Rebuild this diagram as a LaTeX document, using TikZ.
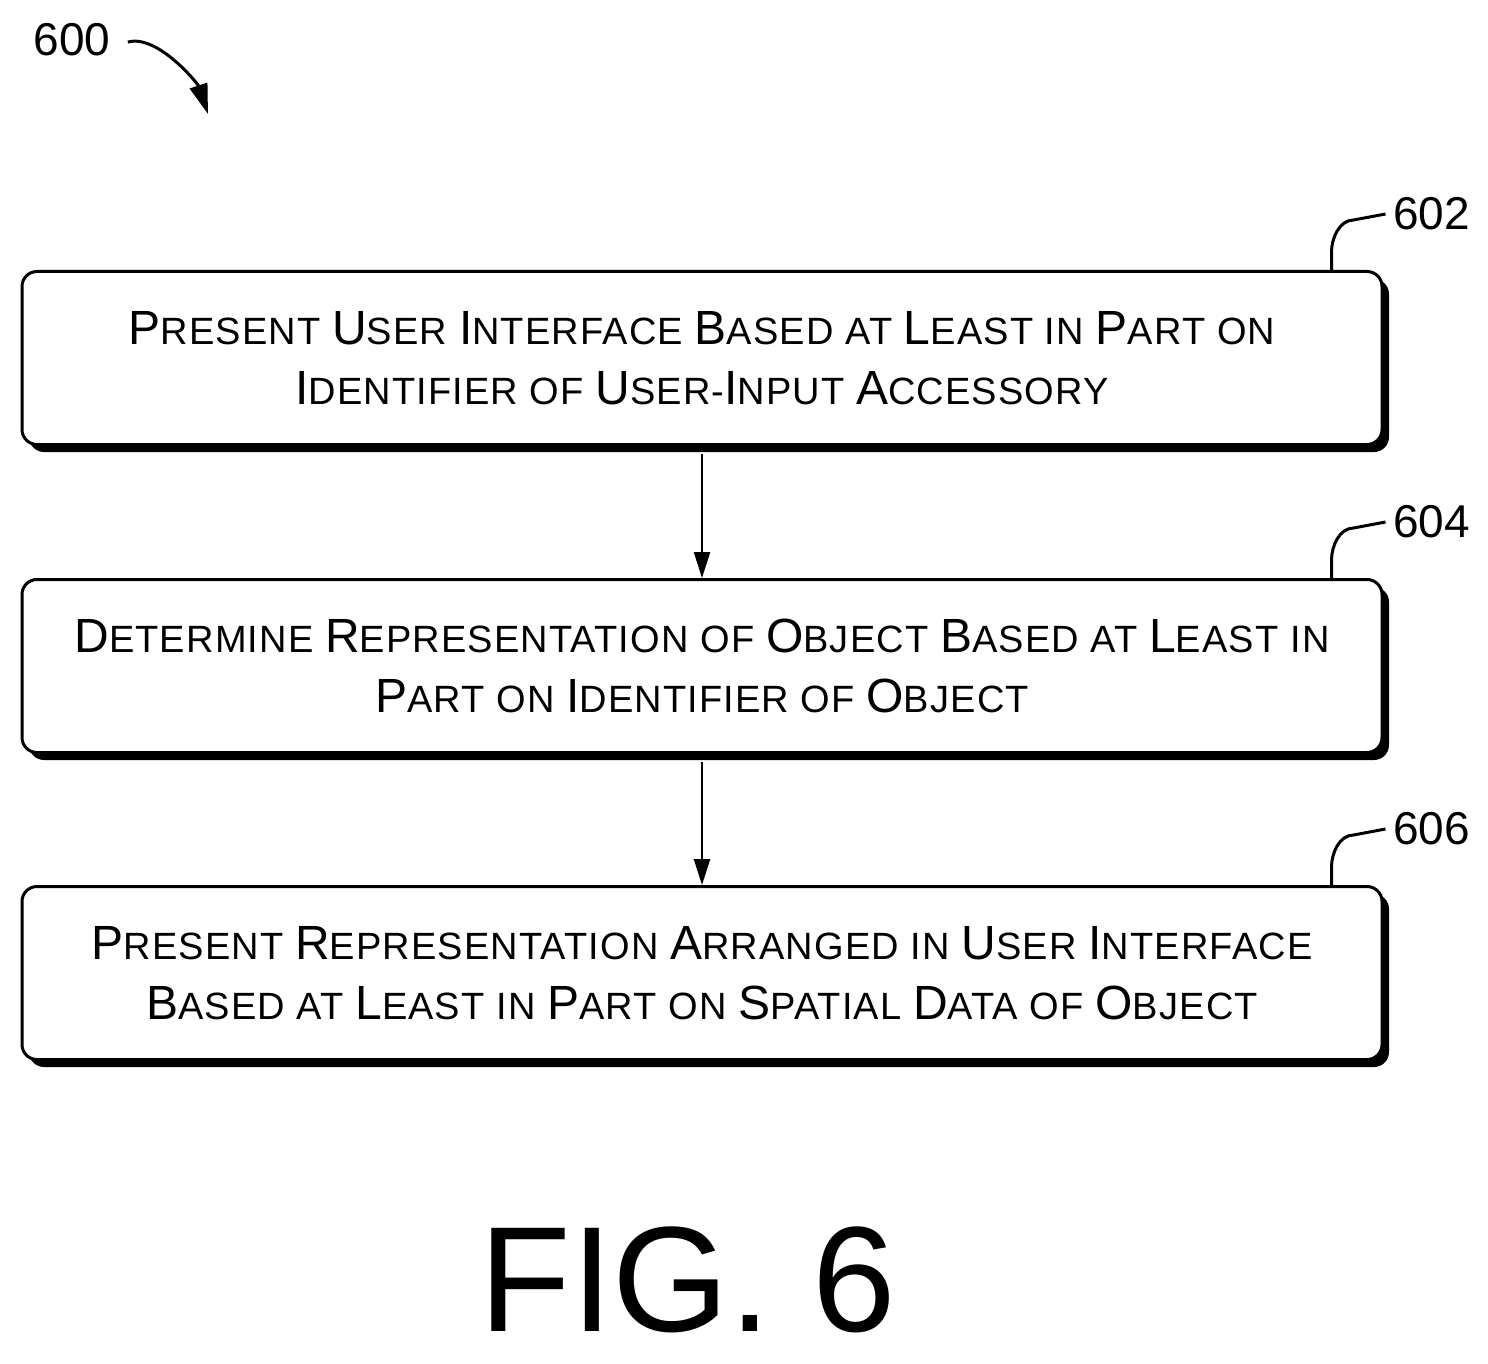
\documentclass[tikz,border=0pt]{standalone}
\usepackage{fontspec}
\setmainfont{Liberation Sans}[LetterSpace=3]
\usetikzlibrary{arrows.meta}
\newcommand\B[1]{{\fontsize{48}{48}\selectfont #1}}
\newcommand\s[1]{{\fontsize{38}{38}\selectfont #1}}
\begin{document}
\begin{tikzpicture}[x=1pt,y=-1pt,
 box/.style={draw,line width=3pt,rounded corners=15pt,fill=white,minimum width=1360pt,minimum height=173pt,align=center,inner sep=0pt,font=\fontsize{38}{60}\selectfont},
 shad/.style={fill=black,rounded corners=15pt},
 arr/.style={-{Triangle[length=26pt,width=16pt]},line width=2.5pt},
 lead/.style={line width=3pt},
 lab/.style={font=\fontsize{46}{46}\selectfont\addfontfeatures{LetterSpace=0},anchor=west}]
\useasboundingbox (0,0) rectangle (1488,1364);
\foreach \y in {272,580,887}{\fill[shad] (29,\y+7) rectangle (1389,\y+180);}
\node[box] (b1) at (702,358) {\B{P}\s{RESENT} \B{U}\s{SER} \B{I}\s{NTERFACE} \B{B}\s{ASED AT} \B{L}\s{EAST IN} \B{P}\s{ART ON}\\\B{I}\s{DENTIFIER OF} \B{U}\s{SER}-\B{I}\s{NPUT} \B{A}\s{CCESSORY}};
\node[box] (b2) at (702,666) {\B{D}\s{ETERMINE} \B{R}\s{EPRESENTATION OF} \B{O}\s{BJECT} \B{B}\s{ASED AT} \B{L}\s{EAST IN}\\\B{P}\s{ART ON} \B{I}\s{DENTIFIER OF} \B{O}\s{BJECT}};
\node[box] (b3) at (702,973) {\B{P}\s{RESENT} \B{R}\s{EPRESENTATION} \B{A}\s{RRANGED IN} \B{U}\s{SER} \B{I}\s{NTERFACE}\\\B{B}\s{ASED AT} \B{L}\s{EAST IN} \B{P}\s{ART ON} \B{S}\s{PATIAL} \B{D}\s{ATA OF} \B{O}\s{BJECT}};
\draw[arr] (b1.south) ++(0,8) coordinate (a1) -- (b2.north);
\draw[arr] (b2.south) ++(0,8) coordinate (a2) -- (b3.north);
\foreach \n/\t in {b1/602,b2/604,b3/606}{
 \node[lab] (l\n) at ([xshift=6pt,yshift=56pt]\n.north east) {\t};
 \draw[lead] ([xshift=-52pt]\n.north east) -- ++(0,-18) .. controls +(0,-14) and +(-14,0) .. ++(22,-32) -- ([xshift=-4pt]l\n.west);
}
\node[lab] (l600) at (30,40) {600};
\draw[line width=3pt,-{Triangle[length=30pt,width=18pt]}] (l600.east) ++(14,2) coordinate (c0) .. controls +(30,-8) and +(-10,-30) .. (208,114);
\node[font=\fontsize{150}{150}\selectfont\addfontfeatures{LetterSpace=0}] (fig) at (688,1280) {FIG. 6};
\end{tikzpicture}
\end{document}
